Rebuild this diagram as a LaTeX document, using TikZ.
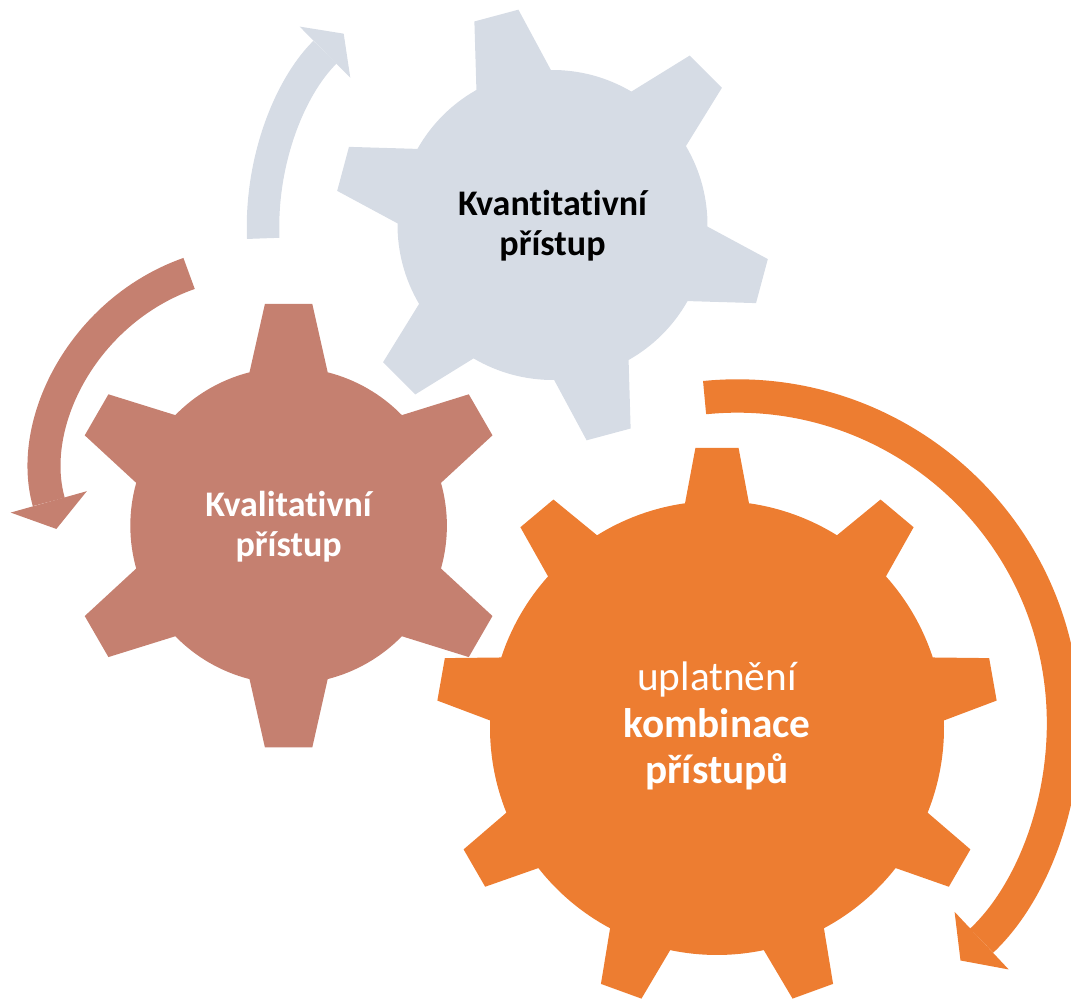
\documentclass[tikz,border=0pt]{standalone}
\usepackage{fontspec}
\setmainfont{Carlito}[Ligatures=CommonOff]
\usetikzlibrary{arrows.meta}

\definecolor{gearblue}{HTML}{D6DCE5}
\definecolor{gearbrown}{HTML}{C58070}
\definecolor{gearorange}{HTML}{ED7D31}

\tikzset{
  turn/.style={line width=#1},
  gearlabel/.style={align=center,font=\fontsize{20.5}{23}\selectfont\bfseries}
}

\begin{document}
\begin{tikzpicture}[x=0.02cm,y=0.02cm]
  \useasboundingbox (0,0) rectangle (1071,1000);
  \clip (0,0) rectangle (1071,1000);

  % Arrow round the upper gear
  \draw[gearblue,turn=18.5pt,-{Triangle[length=15pt,width=41pt,line width=0pt]}]
    (535,773) ++(182.4:272) arc[start angle=182.4, end angle=134.7, radius=272];

  % Upper gear (6 teeth)
  \begin{scope}[shift={(552.5,775)}]
    \fill[gearblue] (90.6:155)
      \foreach \a in {105,165,...,405} {
        -- ({\a-6}:218) -- ({\a+6}:218) -- ({\a+14.4}:155)
        arc[start angle=\a+14.4, end angle=\a+45.6, radius=155]
      } -- cycle;
    \node[gearlabel,text=black] (kvanti) at (0,-1) {Kvantitativní\\přístup};
  \end{scope}

  % Arrow round the left gear
  \draw[gearbrown,turn=18.8pt,-{Triangle[length=16pt,width=45pt,line width=0pt]}]
    (259,528) ++(109.4:210.5) arc[start angle=109.4, end angle=195.7, radius=210.5];

  % Left gear (6 teeth)
  \begin{scope}[shift={(288.6,474.3)}]
    \fill[gearbrown] (75.7:158.3)
      \foreach \a in {90,150,...,390} {
        -- ({\a-6.1}:223) -- ({\a+6.1}:223) -- ({\a+14.3}:158.3)
        arc[start angle=\a+14.3, end angle=\a+45.7, radius=158.3]
      } -- cycle;
    \node[gearlabel,text=white] (kvali) at (0,-1) {Kvalitativní\\přístup};
  \end{scope}

  % Arrow round the big gear
  \draw[gearorange,turn=19pt,-{Triangle[length=16.5pt,width=45pt,line width=0pt]}]
    (737,277.5) ++(95.7:326.5) arc[start angle=95.7, end angle=-46.8, radius=326.5];

  % Big gear (9 teeth)
  \begin{scope}[shift={(717,272)}]
    \fill[gearorange] (81.9:227)
      \foreach \a in {90,130,...,410} {
        -- ({\a-4.4}:281) -- ({\a+4.4}:281) -- ({\a+8.1}:227)
        arc[start angle=\a+8.1, end angle=\a+31.9, radius=227]
      } -- cycle;
    \node[align=center,text=white,font=\fontsize{23.5}{26.6}\selectfont] (kombi) at (0,2)
      {uplatnění\\\textbf{kombinace}\\\textbf{přístupů}};
  \end{scope}
\end{tikzpicture}
\end{document}
